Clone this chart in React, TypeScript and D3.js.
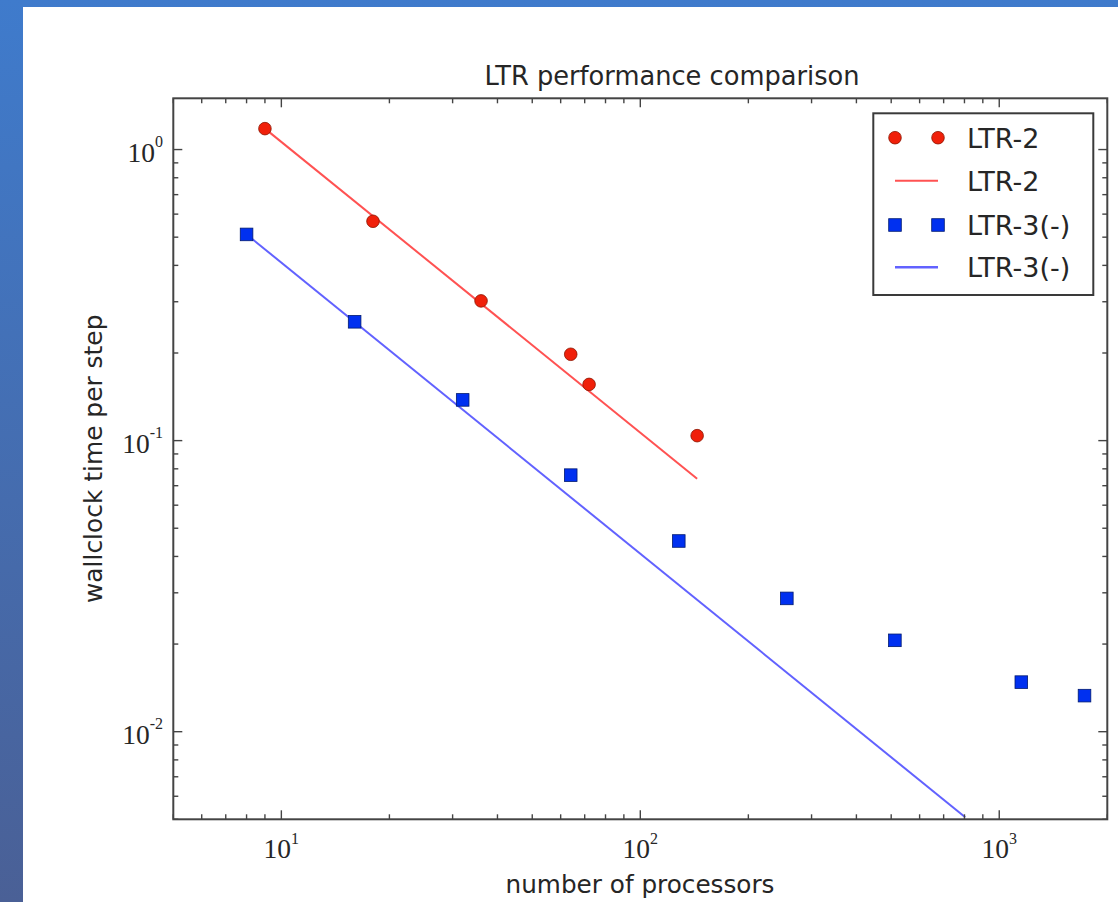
import React from "react";
import * as d3 from "d3";

// values
const ltr2Procs = [9, 18, 36, 64, 72, 144];
const ltr2Times = [1.18, 0.567, 0.302, 0.198, 0.156, 0.104];
const ltr2FitProcs = [9, 144];
const ltr2FitTimes = [1.18, 0.074];

const ltr3Procs = [8, 16, 32, 64, 128, 256, 512, 1152, 1728];
const ltr3Times = [0.511, 0.256, 0.138, 0.0761, 0.0452, 0.0287, 0.0206, 0.0148, 0.0133];
const ltr3FitProcs = [8, 804];
const ltr3FitTimes = [0.511, 0.00508];

const legendLabels = ["LTR-2", "LTR-2", "LTR-3(-)", "LTR-3(-)"];

const W = 1118;
const H = 902;
const left = 173.3, right = 1107.3, top = 98.3, bottom = 819.3;

const SANS = "'DejaVu Sans', sans-serif";
const SERIF = "'Liberation Serif', serif";
const AX = "#444";
const TXT = "#262626";
const RED = "#f0200a";
const BLUE = "#0030f0";

const App = () => {
  const x = d3.scaleLog().domain([5, 2000]).range([left, right]);
  const y = d3.scaleLog().domain([0.005, 1.5]).range([bottom, top]);

  const isMajor = (v: number) => Math.abs(Math.log10(v) - Math.round(Math.log10(v))) < 1e-9;
  const xTicks = x.ticks();
  const yTicks = y.ticks();

  const line = d3
    .line<[number, number]>()
    .x((d) => x(d[0]))
    .y((d) => y(d[1]));

  const redFit = line(ltr2FitProcs.map((p, i) => [p, ltr2FitTimes[i]] as [number, number]));
  const blueFit = line(ltr3FitProcs.map((p, i) => [p, ltr3FitTimes[i]] as [number, number]));

  const tickLen = (v: number) => (isMajor(v) ? 9 : 5);

  const legRows = [137.7, 180.7, 225, 267.3];
  const legX1 = 895, legX2 = 938;

  return (
    <div style={{ position: "absolute", left: 0, top: 0 }}>
      <svg width={W} height={H} style={{ display: "block" }}>
        <defs>
          <linearGradient id="bg" x1="0" y1="0" x2="0" y2="1">
            <stop offset="0" stopColor="#3f7bcc" />
            <stop offset="1" stopColor="#4a6096" />
          </linearGradient>
          <clipPath id="plotClip">
            <rect x={left} y={top} width={right - left} height={bottom - top} />
          </clipPath>
        </defs>
        <rect x={0} y={0} width={W} height={H} fill="url(#bg)" />
        <rect x={23} y={7} width={W - 23} height={H - 7} fill="#fff" />

        {/* title */}
        <text x={672} y={85} textAnchor="middle" fontFamily={SANS} fontSize={25.7} fill={TXT}>
          LTR performance comparison
        </text>

        {/* lines and markers */}
        <g clipPath="url(#plotClip)">
          <path d={redFit || ""} fill="none" stroke="#ff5252" strokeWidth={2} />
          <path d={blueFit || ""} fill="none" stroke="#6262ff" strokeWidth={2} />
          {ltr2Procs.map((p, i) => (
            <circle key={"r" + i} cx={x(p)} cy={y(ltr2Times[i])} r={6.3} fill={RED} stroke="#8a1400" strokeWidth={0.8} />
          ))}
          {ltr3Procs.map((p, i) => (
            <rect
              key={"b" + i}
              x={x(p) - 6.3}
              y={y(ltr3Times[i]) - 6.3}
              width={12.6}
              height={12.6}
              fill={BLUE}
              stroke="#001a70"
              strokeWidth={0.8}
            />
          ))}
        </g>

        {/* ticks on all four sides, pointing inward */}
        <g stroke={AX} strokeWidth={1.4}>
          {xTicks.map((v, i) => (
            <g key={"xt" + i}>
              <line x1={x(v)} x2={x(v)} y1={bottom} y2={bottom - tickLen(v)} />
              <line x1={x(v)} x2={x(v)} y1={top} y2={top + tickLen(v)} />
            </g>
          ))}
          {yTicks.map((v, i) => (
            <g key={"yt" + i}>
              <line x1={left} x2={left + tickLen(v)} y1={y(v)} y2={y(v)} />
              <line x1={right} x2={right - tickLen(v)} y1={y(v)} y2={y(v)} />
            </g>
          ))}
        </g>
        <rect x={left} y={top} width={right - left} height={bottom - top} fill="none" stroke={AX} strokeWidth={2} />

        {/* tick labels */}
        {xTicks.filter(isMajor).map((v, i) => (
          <text key={"xl" + i} x={x(v)} y={858} textAnchor="middle" fontFamily={SERIF} fill={TXT}>
            <tspan fontSize={27.5}>10</tspan>
            <tspan fontSize={16} dy={-14}>{Math.round(Math.log10(v))}</tspan>
          </text>
        ))}
        {yTicks.filter(isMajor).map((v, i) => (
          <text key={"yl" + i} x={163} y={y(v) + 12} textAnchor="end" fontFamily={SERIF} fill={TXT}>
            <tspan fontSize={27.5}>10</tspan>
            <tspan fontSize={16} dy={-15}>{Math.round(Math.log10(v))}</tspan>
          </text>
        ))}

        {/* axis labels */}
        <text x={640} y={893} textAnchor="middle" fontFamily={SANS} fontSize={24.7} fill={TXT}>
          number of processors
        </text>
        <text
          transform={`translate(101.5, ${(top + bottom) / 2}) rotate(-90)`}
          textAnchor="middle"
          fontFamily={SANS}
          fontSize={24.9}
          fill={TXT}
        >
          wallclock time per step
        </text>

        {/* legend */}
        <rect x={873.3} y={113.3} width={220} height={181.7} fill="#fff" stroke="#3a3a3a" strokeWidth={2} />
        <circle cx={legX1} cy={legRows[0]} r={6.3} fill={RED} stroke="#8a1400" strokeWidth={0.8} />
        <circle cx={legX2} cy={legRows[0]} r={6.3} fill={RED} stroke="#8a1400" strokeWidth={0.8} />
        <line x1={legX1} x2={legX2} y1={legRows[1]} y2={legRows[1]} stroke="#ff5252" strokeWidth={2} />
        <rect x={legX1 - 6.3} y={legRows[2] - 6.3} width={12.6} height={12.6} fill={BLUE} stroke="#001a70" strokeWidth={0.8} />
        <rect x={legX2 - 6.3} y={legRows[2] - 6.3} width={12.6} height={12.6} fill={BLUE} stroke="#001a70" strokeWidth={0.8} />
        <line x1={legX1} x2={legX2} y1={legRows[3]} y2={legRows[3]} stroke="#6262ff" strokeWidth={2.5} />
        {legendLabels.map((t, i) => (
          <text key={"lg" + i} x={967} y={legRows[i] + 9.8} fontFamily={SANS} fontSize={27} fill={TXT}>
            {t}
          </text>
        ))}
      </svg>
    </div>
  );
};

export default App;
